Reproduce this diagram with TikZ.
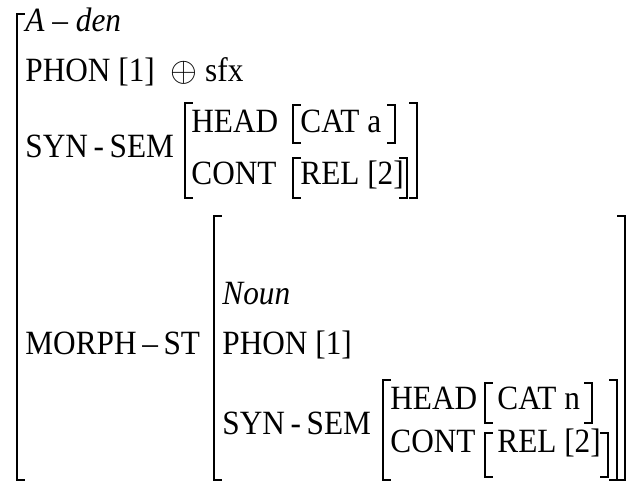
\documentclass[tikz,border=0pt]{standalone}
\usepackage{fontspec}
\setmainfont[FakeStretch=0.92]{Liberation Serif}
\usepackage{tikz}

% tall square brackets of the matrix: x, top y, bottom y
\newcommand{\lbrk}[3]{\draw[brk] (#1+7,#2) -- (#1,#2) -- (#1,#3) -- (#1+7,#3);}
\newcommand{\rbrk}[3]{\draw[brk] (#1-7,#2) -- (#1,#2) -- (#1,#3) -- (#1-7,#3);}

\begin{document}
\begin{tikzpicture}[x=0.5pt,y=-0.5pt]
{\fontsize{17}{20}\selectfont
  \tikzstyle{feat}=[anchor=base west,inner sep=0pt]
  \tikzstyle{brk}=[line width=1pt,line cap=rect]
  \useasboundingbox (0,0) rectangle (628,481);

    \node [feat] (lex)   at (25,32)  {\textit{A} – \textit{den}};
    \node [feat] (phon)  at (25,82)  {PHON [1] \ $\oplus$\ sfx};
    \node [feat] (ss)    at (25,158) {SYN\,-\,SEM};
    \node [feat] (head)  at (191,133) {HEAD};
    \node [feat] (cat)   at (300,133) {CAT a};
    \node [feat] (cont)  at (191,185) {CONT};
    \node [feat] (rel)   at (300,185) {REL [2]};
    \node [feat] (ms)    at (25,355) {MORPH\,–\,ST};
    \node [feat] (noun)  at (222,305) {\textit{Noun}};
    \node [feat] (nphon) at (222,355) {PHON [1]};
    \node [feat] (nss)   at (222,435) {SYN\,-\,SEM};
    \node [feat] (nhead) at (390,410) {HEAD};
    \node [feat] (ncat)  at (497,410) {CAT n};
    \node [feat] (ncont) at (390,453) {CONT};
    \node [feat] (nrel)  at (497,453) {REL [2]};
%outer
\lbrk{17}{14}{480}
%syn-sem of the adjective
\lbrk{185}{103}{198}
\rbrk{417}{103}{198}
\lbrk{293}{105}{143}
\rbrk{395}{105}{143}
\lbrk{293}{158}{198}
\rbrk{407}{158}{198}
%morph-st
\lbrk{214}{216}{480}
\rbrk{625}{216}{480}
\lbrk{383}{380}{480}
\rbrk{617}{380}{480}
\lbrk{485}{383}{423}
\rbrk{592}{383}{423}
\lbrk{485}{433}{477}
\rbrk{608}{433}{477}
}
\end{tikzpicture}
\end{document}
